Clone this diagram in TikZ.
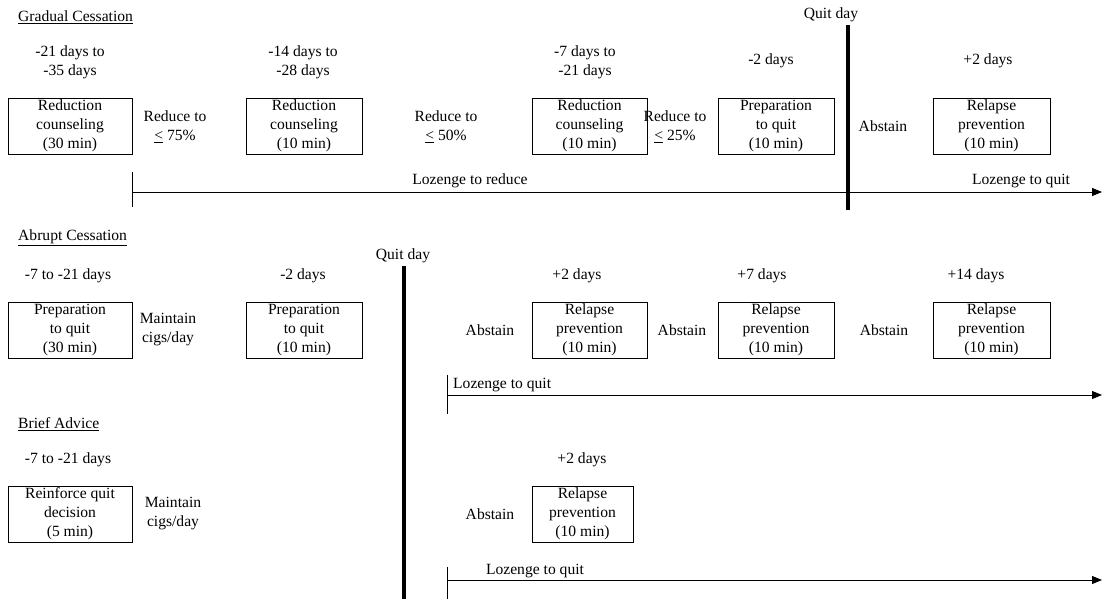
\documentclass[tikz,border=0pt]{standalone}
\usepackage{fontspec}
\setmainfont{Liberation Serif}
\usetikzlibrary{arrows.meta}
\tikzset{
  txt/.style={font=\fontsize{15.6}{19}\selectfont, align=center, inner sep=1pt},
  box/.style={txt, draw, line width=0.9pt, minimum height=56pt, inner sep=1pt},
  quitline/.style={line width=3.6pt},
  thin/.style={line width=0.9pt},
  arr/.style={thin, -{Triangle[length=10pt,width=8pt]}},
}
\begin{document}
\begin{tikzpicture}[x=1pt,y=-1pt]
\useasboundingbox (0,0) rectangle (1107,599);
% ---------------- Gradual cessation ----------------
\node[txt, anchor=west] (gt) at (17,17) {\underline{Gradual Cessation}};
\node[txt] (gq) at (831,15) {Quit day};
\coordinate (gqa) at (848,25);
\coordinate (gqb) at (848,210);
\draw[quitline] (gqa) -- (gqb);

\node[txt] (g1t) at (70,62) {-21 days to\\-35 days};
\node[txt] (g2t) at (303,62) {-14 days to\\-28 days};
\node[txt] (g3t) at (585,62) {-7 days to\\-21 days};
\node[txt] (g4t) at (771,61) {-2 days};
\node[txt] (g5t) at (988,61) {+2 days};

\node[box, minimum width=124pt] (g1) at (70,126) {Reduction\\counseling\\(30 min)};
\node[box, minimum width=116pt] (g2) at (304,126) {Reduction\\counseling\\(10 min)};
\node[box, minimum width=115pt] (g3) at (589.5,126) {Reduction\\counseling\\(10 min)};
\node[box, minimum width=116pt] (g4) at (776,126) {Preparation\\to quit\\(10 min)};
\node[box, minimum width=117pt] (g5) at (991.5,126) {Relapse\\prevention\\(10 min)};

\node[txt] (gr1) at (175,127) {Reduce to\\\underline{<} 75\%};
\node[txt] (gr2) at (446,127) {Reduce to\\\underline{<} 50\%};
\node[txt] (gr3) at (675,127) {Reduce to\\\underline{<} 25\%};
\node[txt] (ga) at (883,126) {Abstain};

\coordinate (gta) at (132,172);
\coordinate (gtb) at (132,207);
\coordinate (gla) at (132,192);
\coordinate (glb) at (1102,192);
\draw[thin] (gta) -- (gtb);
\draw[arr] (gla) -- (glb);
\node[txt] (glr) at (470,181) {Lozenge to reduce};
\node[txt] (glq) at (1021,181) {Lozenge to quit};

% ---------------- Abrupt cessation ----------------
\node[txt, anchor=west] (at) at (17,238) {\underline{Abrupt Cessation}};
\node[txt] (aq) at (403,256) {Quit day};
\coordinate (aqa) at (404,266);
\coordinate (aqb) at (404,599);
\draw[quitline] (aqa) -- (aqb);

\node[txt] (a1t) at (68,276) {-7 to -21 days};
\node[txt] (a2t) at (303,276) {-2 days};
\node[txt] (a3t) at (577,276) {+2 days};
\node[txt] (a4t) at (762,276) {+7 days};
\node[txt] (a5t) at (976,276) {+14 days};

\node[box, minimum width=124pt] (a1) at (70,330) {Preparation\\to quit\\(30 min)};
\node[box, minimum width=116pt] (a2) at (304,330) {Preparation\\to quit\\(10 min)};
\node[box, minimum width=115pt] (a3) at (589.5,330) {Relapse\\prevention\\(10 min)};
\node[box, minimum width=116pt] (a4) at (776,330) {Relapse\\prevention\\(10 min)};
\node[box, minimum width=117pt] (a5) at (991.5,330) {Relapse\\prevention\\(10 min)};

\node[txt] (am) at (168,330) {Maintain\\cigs/day};
\node[txt] (aa1) at (490,330) {Abstain};
\node[txt] (aa2) at (682,330) {Abstain};
\node[txt] (aa3) at (884,330) {Abstain};

\coordinate (ata) at (447,375);
\coordinate (atb) at (447,414);
\coordinate (ala) at (447,395);
\coordinate (alb) at (1102,395);
\draw[thin] (ata) -- (atb);
\draw[arr] (ala) -- (alb);
\node[txt, anchor=west] (alq) at (452,385) {Lozenge to quit};

% ---------------- Brief advice ----------------
\node[txt, anchor=west] (bt) at (17,424) {\underline{Brief Advice}};
\node[txt] (b1t) at (68,460) {-7 to -21 days};
\node[txt] (b2t) at (582,460) {+2 days};

\node[box, minimum width=124pt] (b1) at (70,514) {Reinforce quit\\decision\\(5 min)};
\node[box, minimum width=101pt] (b2) at (582.5,514) {Relapse\\prevention\\(10 min)};
\node[txt] (bm) at (173,514) {Maintain\\cigs/day};
\node[txt] (ba) at (490,514) {Abstain};

\coordinate (bta) at (447,567);
\coordinate (btb) at (447,599);
\coordinate (bla) at (447,580);
\coordinate (blb) at (1102,580);
\draw[thin] (bta) -- (btb);
\draw[arr] (bla) -- (blb);
\node[txt] (blq) at (535,571) {Lozenge to quit};
\end{tikzpicture}
\end{document}
